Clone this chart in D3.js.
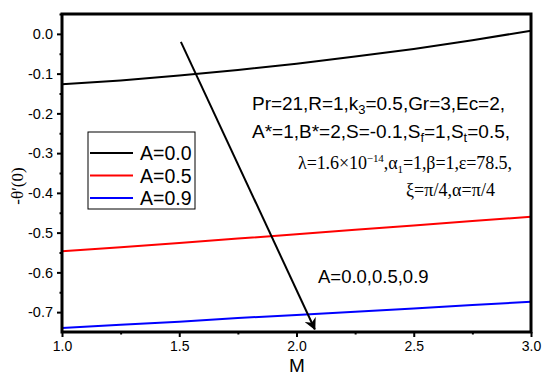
<!DOCTYPE html>
<html><head><meta charset="utf-8">
<script src="https://cdn.jsdelivr.net/npm/d3@7"></script>
<style>body{margin:0;background:#fff}svg{display:block}</style>
</head><body>
<svg id="c" width="550" height="381"></svg>
<script>
const M = [1.0, 1.25, 1.5, 1.75, 2.0, 2.25, 2.5, 2.75, 3.0];
const A00 = [-0.127, -0.117, -0.105, -0.091, -0.075, -0.057, -0.038, -0.016, 0.008];
const A05 = [-0.547, -0.537, -0.526, -0.515, -0.504, -0.493, -0.482, -0.471, -0.460];
const A09 = [-0.740, -0.732, -0.724, -0.715, -0.707, -0.699, -0.691, -0.682, -0.674];
const seriesNames = ["A=0.0", "A=0.5", "A=0.9"];
const seriesColors = ["#000000", "#ff0000", "#0000ff"];
const xTicks = [1.0, 1.5, 2.0, 2.5, 3.0];
const yTicks = [0.0, -0.1, -0.2, -0.3, -0.4, -0.5, -0.6, -0.7];
const arrowFrom = [1.507, -0.020];
const arrowTo = [2.078, -0.743];

const svg = d3.select("#c");
const L = 62, R = 531, T = 14, B = 332;
const x = d3.scaleLinear().domain([1, 3]).range([L, R]);
const y = d3.scaleLinear().domain([-0.75, 0.05]).range([B, T]);
const sans = "'Liberation Sans', Arial, sans-serif";
const serif = "'Liberation Serif', 'Times New Roman', serif";

const defs = svg.append("defs");
defs.append("marker").attr("id","ah").attr("viewBox","0 0 10 10").attr("refX",9).attr("refY",5)
  .attr("markerWidth",6).attr("markerHeight",6).attr("orient","auto").attr("markerUnits","strokeWidth")
  .append("path").attr("d","M0,0 L10,5 L0,10 L3,5 Z").attr("fill","#000");

// series
const all = [A00, A05, A09];
const line = d3.line().x((d,i)=>x(M[i])).y(d=>y(d));
all.forEach((s,k)=>{
  svg.append("path").datum(s).attr("d", line).attr("fill","none")
    .attr("stroke", seriesColors[k]).attr("stroke-width", 2);
});

// axes
const xAxis = d3.axisBottom(x).tickValues(xTicks).tickFormat(d3.format(".1f")).tickSize(5).tickPadding(4);
const gx = svg.append("g").attr("transform",`translate(0,${B})`).call(xAxis);
gx.selectAll("text").attr("font-family", sans).attr("font-size", 14).attr("fill","#000");
gx.select(".domain").remove();
gx.selectAll(".tick line").attr("stroke-width",2);
const xMinor = d3.axisBottom(x).tickValues([1.25,1.75,2.25,2.75]).tickSize(2.5).tickFormat("");
const gxm = svg.append("g").attr("transform",`translate(0,${B})`).call(xMinor);
gxm.select(".domain").remove(); gxm.selectAll("line").attr("stroke-width",2);

const yAxis = d3.axisLeft(y).tickValues(yTicks).tickFormat(d3.format(".1f")).tickSize(5).tickPadding(4);
const gy = svg.append("g").attr("transform",`translate(${L},0)`).call(yAxis);
gy.selectAll("text").attr("font-family", sans).attr("font-size", 14.5).attr("fill","#000")
  .text(d => d3.format(".1f")(d).replace("−","-"));
gy.select(".domain").remove();
gy.selectAll(".tick line").attr("stroke-width",2);
const yMinor = d3.axisLeft(y).tickValues(yTicks.map(v=>v+0.05)).tickSize(2.5).tickFormat("");
const gym = svg.append("g").attr("transform",`translate(${L},0)`).call(yMinor);
gym.select(".domain").remove(); gym.selectAll("line").attr("stroke-width",2);

// frame
svg.append("rect").attr("x",L).attr("y",T).attr("width",R-L).attr("height",B-T)
  .attr("fill","none").attr("stroke","#000").attr("stroke-width",3);

// axis labels
svg.append("text").attr("x", 297).attr("y", 372).attr("text-anchor","middle")
  .attr("font-family", sans).attr("font-size", 19).text("M");
svg.append("text").attr("transform","translate(23,186) rotate(-90)").attr("text-anchor","middle")
  .attr("font-family", serif).attr("font-size", 17).text("-θ′(0)");

// arrow
svg.append("line").attr("x1",x(arrowFrom[0])).attr("y1",y(arrowFrom[1]))
  .attr("x2",x(arrowTo[0])).attr("y2",y(arrowTo[1]))
  .attr("stroke","#000").attr("stroke-width",2).attr("marker-end","url(#ah)");

// legend
const lg = svg.append("g");
lg.append("rect").attr("x",88).attr("y",132).attr("width",107).attr("height",77)
  .attr("fill","#fff").attr("stroke","#000").attr("stroke-width",1);
seriesNames.forEach((n,k)=>{
  const yy = 153 + k*22.5;
  lg.append("line").attr("x1",90).attr("x2",133).attr("y1",yy).attr("y2",yy)
    .attr("stroke",seriesColors[k]).attr("stroke-width",2);
  lg.append("text").attr("x",140).attr("y",yy+7).attr("font-family",sans).attr("font-size",19.5)
    .text(n);
});

// annotation text
const t1 = svg.append("text").attr("x",252).attr("y",110).attr("font-family",sans).attr("font-size",19)
  .attr("textLength",253).attr("lengthAdjust","spacing");
t1.append("tspan").text("Pr=21,R=1,k");
t1.append("tspan").attr("font-size",13).attr("dy",4).text("3");
t1.append("tspan").attr("dy",-4).text("=0.5,Gr=3,Ec=2,");

const t2 = svg.append("text").attr("x",252).attr("y",138).attr("font-family",sans).attr("font-size",19)
  .attr("textLength",258).attr("lengthAdjust","spacing");
t2.append("tspan").text("A*=1,B*=2,S=-0.1,S");
t2.append("tspan").attr("font-size",13).attr("dy",4).text("f");
t2.append("tspan").attr("dy",-4).text("=1,S");
t2.append("tspan").attr("font-size",13).attr("dy",4).text("t");
t2.append("tspan").attr("dy",-4).text("=0.5,");

const t3 = svg.append("text").attr("x",298).attr("y",169).attr("font-family",serif).attr("font-size",18)
  .attr("textLength",214).attr("lengthAdjust","spacing");
t3.append("tspan").text("λ=1.6×10");
t3.append("tspan").attr("font-size",11).attr("dy",-7).text("−14");
t3.append("tspan").attr("dy",7).text(",α");
t3.append("tspan").attr("font-size",11).attr("dy",4).text("1");
t3.append("tspan").attr("dy",-4).text("=1,β=1,ε=78.5,");

svg.append("text").attr("x",406).attr("y",196).attr("font-family",serif).attr("font-size",18)
  .attr("textLength",89).attr("lengthAdjust","spacing").text("ξ=π/4,α=π/4");

svg.append("text").attr("x",318).attr("y",283).attr("font-family",sans).attr("font-size",18.5)
  .text("A=0.0,0.5,0.9");
</script>
</body></html>
